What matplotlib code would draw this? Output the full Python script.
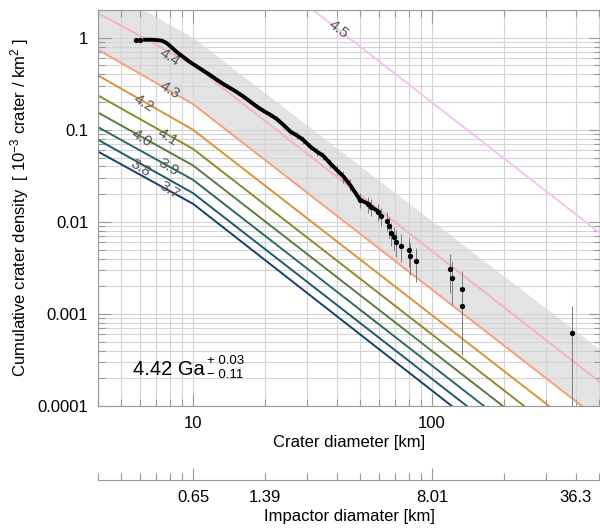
import numpy as np
import matplotlib.pyplot as plt
from matplotlib.ticker import FixedLocator, LogLocator, FuncFormatter, NullFormatter

plt.rcParams['font.family'] = ['Liberation Sans', 'DejaVu Sans']
plt.rcParams['mathtext.fontset'] = 'custom'
plt.rcParams['mathtext.rm'] = 'Liberation Sans'
plt.rcParams['mathtext.it'] = 'Liberation Sans'
plt.rcParams['mathtext.bf'] = 'Liberation Sans:bold'

# isochrons (age in Ga): crater diameter [km] / cumulative density [1e-3 / km^2]
iso_ages = ['3.7', '3.8', '3.9', '4.0', '4.1', '4.2', '4.3', '4.4', '4.5']
iso_d = [[4, 10, 121], [4, 10, 140], [4, 10, 165], [4, 10, 198], [4, 10, 243],
         [4, 10, 309], [4, 10, 424], [4, 10, 510], [31.8, 510]]
iso_n = [[0.058, 0.0157, 1e-4], [0.078, 0.0205, 1e-4], [0.107, 0.0286, 1e-4],
         [0.154, 0.041, 1e-4], [0.236, 0.062, 1e-4], [0.39, 0.10, 1e-4],
         [0.74, 0.19, 1e-4], [1.85, 0.509, 1.78e-4], [2.0, 0.0074]]
iso_colors = ['#17406a', '#1c5a6c', '#2c6b5c', '#587a45', '#8c8a2e', '#d6953a',
              '#f5a07e', '#f7b3bd', '#f3c3f1']
label_d = [8.0, 6.0, 7.9, 6.1, 7.8, 6.2, 8.0, 8.0, 40.4]
label_n = [0.0222, 0.0386, 0.0396, 0.0818, 0.0838, 0.196, 0.266, 0.621, 1.22]

# model age uncertainty band (upper and lower edges)
band_hi_d = [4, 6.2, 10, 37.4, 510]
band_hi_n = [2.0, 2.0, 1.0, 0.0722, 4.0e-4]
band_lo_d = [4, 10, 424, 510]
band_lo_n = [0.74, 0.19, 1.0e-4, 1.0e-4]

# measured cumulative crater counts
crater_d = [5.77, 6.0, 6.3, 6.72, 7.05, 7.4, 7.76, 8.14, 8.55, 9.11, 9.71, 10.36,
            11.05, 11.78, 12.57, 13.39, 14.29, 15.23, 16.24, 17.32, 18.47, 19.68,
            21.0, 22.4, 23.9, 25.5, 27.2, 28.9, 30.9, 32.9, 35.1, 37.4, 39.9, 42.6,
            45.4, 50.0, 54.1, 55.4, 59.6, 61.0, 64.6, 66.2, 67.7, 69.5, 70.4, 74.1,
            80.1, 80.9, 85.7, 119, 121.6, 133, 133.9, 386]
crater_n = [0.951, 0.951, 0.951, 0.951, 0.943, 0.928, 0.875, 0.785, 0.699, 0.616,
            0.544, 0.488, 0.438, 0.393, 0.350, 0.314, 0.284, 0.257, 0.230, 0.203,
            0.179, 0.161, 0.146, 0.131, 0.113, 0.0959, 0.0868, 0.0778, 0.0659,
            0.0581, 0.0521, 0.0434, 0.0367, 0.0311, 0.0253, 0.0173, 0.0157, 0.01466,
            0.01294, 0.01162, 0.01033, 0.00905, 0.00754, 0.00681, 0.00611, 0.00552,
            0.00496, 0.00430, 0.00373, 0.00308, 0.00248, 0.00187, 0.00123, 0.000617]
crater_err = [0.025, 0.025, 0.025, 0.025, 0.025, 0.026, 0.027, 0.028, 0.030, 0.032,
              0.034, 0.036, 0.038, 0.040, 0.042, 0.044, 0.047, 0.049, 0.052, 0.055,
              0.059, 0.062, 0.065, 0.069, 0.074, 0.080, 0.084, 0.089, 0.096, 0.103,
              0.108, 0.119, 0.129, 0.140, 0.155, 0.19, 0.20, 0.21, 0.22, 0.23, 0.24,
              0.26, 0.28, 0.30, 0.32, 0.33, 0.35, 0.38, 0.41, 0.45, 0.50, 0.58, 0.71,
              0.999]
dense_start, dense_end = 2, 39

# impactor diameters at the matching crater diameters
imp_at = [10, 20, 100, 400]
imp_labels = ['0.65', '1.39', '8.01', '36.3']

fig = plt.figure(figsize=(6.0, 5.29), dpi=100)
ax = fig.add_axes([0.1633, 0.2325, 0.8384, 0.7486])
ax.set_xscale('log')
ax.set_yscale('log')
ax.set_xlim(4, 510)
ax.set_ylim(1e-4, 2.0)
ax.set_axisbelow(True)

ax.fill(np.r_[band_hi_d, band_lo_d[::-1]], np.r_[band_hi_n, band_lo_n[::-1]],
        color='#e3e3e3', lw=0, zorder=0.2)

for d, n, c in zip(iso_d, iso_n, iso_colors):
    ax.plot(d, n, color=c, lw=1.4, zorder=2)
for age, d, n in zip(iso_ages, label_d, label_n):
    rot = -38 if age == '4.5' else -32
    ax.text(d, n, age, rotation=rot, fontsize=11, color='#555555',
            ha='center', va='center', rotation_mode='anchor', zorder=3)

cd = np.array(crater_d)
cn = np.array(crater_n)
ce = np.array(crater_err)
lo = np.maximum(cn * (1 - ce), 1e-6)
hi = cn * (1 + ce)
ax.vlines(cd, lo, hi, color='#7a7a7a', lw=0.7, zorder=4)
ax.plot(cd[dense_start:dense_end], cn[dense_start:dense_end], color='k', lw=2.8,
        zorder=5)
sparse = np.r_[0:dense_start, dense_end - 4:len(cd)]
ax.plot(cd[sparse], cn[sparse], 'o', color='k', ms=2.8, zorder=5)

# model age with asymmetric uncertainty
ax.text(0.0696, 0.0783, '4.42 Ga', transform=ax.transAxes, fontsize=14.5,
        va='baseline')
ax.text(0.2167, 0.106, '+ 0.03', transform=ax.transAxes, fontsize=9.5,
        va='baseline')
ax.text(0.2167, 0.0707, '\u2212 0.11', transform=ax.transAxes, fontsize=9.5,
        va='baseline')

ax.xaxis.set_major_locator(FixedLocator([10, 100]))
ax.xaxis.set_major_formatter(FuncFormatter(lambda v, p: f'{v:g}'))
ax.xaxis.set_minor_locator(LogLocator(base=10, subs=np.arange(2, 10) * 1.0, numticks=20))
ax.xaxis.set_minor_formatter(NullFormatter())
ax.yaxis.set_major_locator(FixedLocator([1e-4, 1e-3, 1e-2, 1e-1, 1]))
ax.yaxis.set_major_formatter(FuncFormatter(lambda v, p: f'{v:g}'))
ax.yaxis.set_minor_locator(LogLocator(base=10, subs=np.arange(2, 10) * 1.0, numticks=20))
ax.yaxis.set_minor_formatter(NullFormatter())

ax.grid(which='both', color='#d4d4d4', lw=0.8)
ax.tick_params(which='both', direction='in', top=True, right=True, color='#999999',
               labelsize=12, pad=7)
ax.tick_params(which='major', length=9, width=0.8)
ax.tick_params(which='minor', length=5, width=0.8)
for s in ax.spines.values():
    s.set_color('#999999')
    s.set_linewidth(0.8)

ax.set_xlabel('Crater diameter [km]', fontsize=12, labelpad=3)
ax.set_ylabel(r'Cumulative crater density  [ 10$^{-3}$ crater / km$^{2}$ ]',
              fontsize=12, labelpad=5)

# second scale: impactor size
ax2 = fig.add_axes([0.1633, 0.0926, 0.8384, 0.0001])
ax2.set_xscale('log')
ax2.set_xlim(4, 510)
ax2.set_yticks([])
for side in ['top', 'left', 'right']:
    ax2.spines[side].set_visible(False)
ax2.spines['bottom'].set_color('#999999')
ax2.spines['bottom'].set_linewidth(0.8)
ax2.patch.set_alpha(0)
ax2.xaxis.set_major_locator(FixedLocator([10, 100]))
ax2.xaxis.set_major_formatter(FuncFormatter(
    lambda v, p: imp_labels[imp_at.index(round(v))] if round(v) in imp_at else ''))
ax2.xaxis.set_minor_locator(LogLocator(base=10, subs=np.arange(2, 10) * 1.0, numticks=20))
ax2.xaxis.set_minor_formatter(FuncFormatter(
    lambda v, p: imp_labels[imp_at.index(round(v))] if round(v) in imp_at else ''))
ax2.tick_params(which='both', direction='in', color='#999999', labelsize=12, pad=7)
ax2.tick_params(which='major', length=9, width=0.8)
ax2.tick_params(which='minor', length=5, width=0.8)
ax2.set_xlabel('Impactor diamater [km]', fontsize=12, labelpad=3)

fig.savefig('out.png', dpi=100)
